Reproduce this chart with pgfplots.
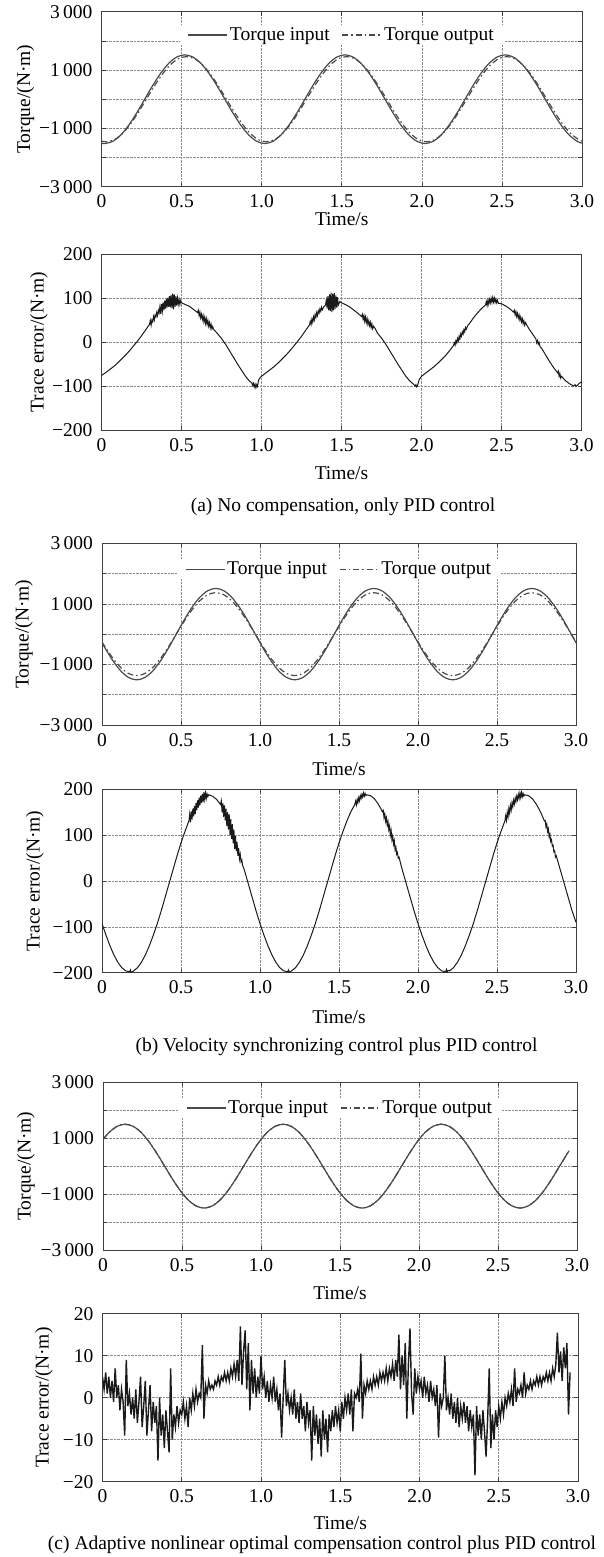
\documentclass[border=0pt]{standalone}
\usepackage{fontspec}
\setmainfont{Liberation Serif}
\usepackage{pgfplots}
\pgfplotsset{compat=1.18}
\newcommand\F{\fontsize{19.5}{22}\selectfont}
\definecolor{ax}{HTML}{404040}
\definecolor{gr}{HTML}{8C8C8C}
\definecolor{tq}{HTML}{4A4A4A}
\definecolor{er}{HTML}{1A1A1A}
\pgfplotsset{
  base/.style={
    scale only axis, anchor=south west,
    xmin=0, xmax=3,
    xtick={0,0.5,1,1.5,2,2.5,3},
    xticklabels={0,0.5,1.0,1.5,2.0,2.5,3.0},
    grid=major,
    grid style={gr, densely dotted, line width=0.6pt},
    axis line style={ax, line width=0.9pt},
    tick style={ax, line width=0.6pt},
    tick align=inside, major tick length=4pt,
    font=\F,
    ticklabel style={font=\F, inner sep=0pt},
    xticklabel shift=8pt, yticklabel shift=9pt,
    xlabel={Time/s},
    xlabel style={at={(axis description cs:0.5,0)}, anchor=center, font=\F},
    ylabel style={at={(axis description cs:0,0.5)}, anchor=center, font=\F},
  },
  tqax/.style={base, ymin=-3000, ymax=3000,
    ytick={-3000,-2000,-1000,0,1000,2000,3000},
    yticklabels={−3\,000,,−1\,000,,1\,000,,3\,000},
    ylabel={Torque/(N·m)},
    legend columns=2,
    legend style={draw=none, fill=white, inner xsep=8pt, inner ysep=1pt, font=\F,
      anchor=center, /tikz/every even column/.append style={column sep=10pt}},
    legend image code/.code={\draw[#1] (0pt,0pt) -- (39pt,0pt);},
  },
  erax/.style={base, ylabel={Trace error/(N·m)}},
  tin/.style={tq, line width=1.2pt, smooth},
  tout/.style={tq, line width=1.2pt, smooth, dash pattern=on 6pt off 3pt on 1.5pt off 3pt},
  err/.style={er, line width=1.0pt},
}
\begin{document}
\begin{tikzpicture}
\useasboundingbox (0pt,0pt) rectangle (604pt,1557pt);
% ---------------- (a) torque
\begin{axis}[tqax, at={(101.5pt,1370.3pt)}, width=480.5pt, height=175pt,
  ylabel style={yshift=76pt}, xlabel style={yshift=-32pt},
  legend style={at={(0.5,0.867)}}]
\addplot[tin] coordinates {(0,-1508)
(0.02,-1520)(0.07,-1446)(0.12,-1230)(0.17,-893)(0.22,-470)(0.27,0)(0.32,470)(0.37,893)(0.42,1230)(0.47,1446)
(0.52,1520)(0.57,1446)(0.62,1230)(0.67,893)(0.72,470)(0.77,0)(0.82,-470)(0.87,-893)(0.92,-1230)(0.97,-1446)
(1.02,-1520)(1.07,-1446)(1.12,-1230)(1.17,-893)(1.22,-470)(1.27,0)(1.32,470)(1.37,893)(1.42,1230)(1.47,1446)
(1.52,1520)(1.57,1446)(1.62,1230)(1.67,893)(1.72,470)(1.77,0)(1.82,-470)(1.87,-893)(1.92,-1230)(1.97,-1446)
(2.02,-1520)(2.07,-1446)(2.12,-1230)(2.17,-893)(2.22,-470)(2.27,0)(2.32,470)(2.37,893)(2.42,1230)(2.47,1446)
(2.52,1520)(2.57,1446)(2.62,1230)(2.67,893)(2.72,470)(2.77,0)(2.82,-470)(2.87,-893)(2.92,-1230)(2.97,-1446)
(3,-1508)};
\addlegendentry{Torque input}
\addplot[tout] coordinates {(0,-1434)
(0.03,-1460)(0.08,-1389)(0.13,-1181)(0.18,-858)(0.23,-451)(0.28,0)(0.33,451)(0.38,858)(0.43,1181)(0.48,1389)
(0.53,1460)(0.58,1389)(0.63,1181)(0.68,858)(0.73,451)(0.78,0)(0.83,-451)(0.88,-858)(0.93,-1181)(0.98,-1389)
(1.03,-1460)(1.08,-1389)(1.13,-1181)(1.18,-858)(1.23,-451)(1.28,0)(1.33,451)(1.38,858)(1.43,1181)(1.48,1389)
(1.53,1460)(1.58,1389)(1.63,1181)(1.68,858)(1.73,451)(1.78,0)(1.83,-451)(1.88,-858)(1.93,-1181)(1.98,-1389)
(2.03,-1460)(2.08,-1389)(2.13,-1181)(2.18,-858)(2.23,-451)(2.28,0)(2.33,451)(2.38,858)(2.43,1181)(2.48,1389)
(2.53,1460)(2.58,1389)(2.63,1181)(2.68,858)(2.73,451)(2.78,0)(2.83,-451)(2.88,-858)(2.93,-1181)(2.98,-1389)
(3,-1434)};
\addlegendentry{Torque output}
\end{axis}
% ---------------- (a) error
\begin{axis}[erax, at={(101.5pt,1127pt)}, width=480pt, height=176pt,
  ymin=-200, ymax=200, ytick={-200,-100,0,100,200}, yticklabels={−200,−100,0,100,200},
  ylabel style={yshift=62.5pt}, xlabel style={yshift=-43pt}]
\addplot[err] coordinates {
(0.000,-76)(0.025,-70)(0.050,-63)(0.075,-56)(0.100,-48)(0.125,-39)(0.150,-30)(0.175,-20)(0.200,-9)(0.225,2)(0.250,14)(0.275,27)(0.300,40)
(0.305,49)(0.310,38)(0.315,50)(0.320,46)(0.325,58)(0.330,50)(0.335,61)(0.340,57)(0.345,67)(0.350,60)(0.355,72)(0.360,66)
(0.365,80)(0.370,64)(0.375,86)(0.380,70)(0.385,90)(0.390,72)(0.395,94)(0.400,76)(0.405,98)(0.410,78)(0.415,101)(0.420,80)
(0.425,104)(0.430,79)(0.435,107)(0.440,77)(0.445,110)(0.450,74)(0.455,108)(0.460,80)(0.465,104)(0.470,83)(0.475,100)(0.480,86)
(0.485,97)(0.490,85)(0.495,94)(0.500,89)(0.525,85)(0.550,81)(0.575,74)(0.600,67)
(0.605,72)(0.610,60)(0.615,68)(0.620,55)(0.625,63)(0.630,51)(0.635,60)(0.640,46)(0.645,56)(0.650,42)(0.655,53)(0.660,40)
(0.665,49)(0.670,36)(0.675,44)(0.680,32)(0.685,40)(0.690,30)(0.695,35)(0.700,29)(0.725,19)(0.750,8)(0.775,-5)(0.800,-20)
(0.825,-35)(0.850,-50)(0.875,-64)(0.900,-78)(0.925,-89)(0.940,-93)(0.945,-99)(0.950,-94)(0.955,-102)(0.960,-96)(0.965,-104)
(0.970,-97)(0.975,-101)(0.980,-90)(0.985,-84)
(1.000,-78)(1.025,-71)(1.050,-64)(1.075,-57)(1.100,-49)(1.125,-40)(1.150,-31)(1.175,-21)(1.200,-10)(1.225,1)(1.250,13)(1.275,26)(1.300,39)
(1.305,47)(1.310,40)(1.315,52)(1.320,45)(1.325,57)(1.330,50)(1.335,62)(1.340,56)(1.345,67)(1.350,60)(1.355,71)(1.360,66)
(1.365,75)(1.370,70)(1.375,79)(1.380,73)(1.390,80)(1.400,84)
(1.405,95)(1.410,76)(1.415,104)(1.420,72)(1.425,108)(1.430,70)(1.435,112)(1.440,68)(1.445,110)(1.450,72)(1.455,111)(1.460,75)
(1.465,106)(1.470,78)(1.475,102)(1.480,84)(1.490,92)(1.500,89)(1.525,85)(1.550,80)(1.575,73)(1.600,66)(1.625,58)
(1.630,63)(1.635,52)(1.640,60)(1.645,47)(1.650,57)(1.655,44)(1.660,53)(1.665,40)(1.670,48)(1.675,37)(1.680,45)(1.685,33)
(1.690,41)(1.695,30)(1.700,36)(1.710,31)(1.725,20)(1.750,9)(1.775,-4)(1.800,-19)(1.825,-34)(1.850,-49)(1.875,-63)(1.900,-77)
(1.925,-88)(1.950,-96)(1.960,-100)(1.965,-97)(1.970,-102)(1.975,-99)(1.985,-86)
(2.000,-78)(2.025,-71)(2.050,-64)(2.075,-57)(2.100,-49)(2.125,-40)(2.150,-31)(2.175,-20)(2.200,-8)
(2.205,-2)(2.210,-7)(2.215,3)(2.220,-2)(2.225,8)(2.230,2)(2.235,13)(2.240,7)(2.245,18)(2.250,13)(2.255,23)(2.260,18)
(2.265,28)(2.270,23)(2.275,33)(2.280,29)(2.290,38)(2.300,42)(2.325,55)(2.350,66)(2.375,76)(2.400,84)
(2.405,92)(2.410,83)(2.415,95)(2.420,86)(2.425,97)(2.430,89)(2.435,99)(2.440,90)(2.445,101)(2.450,91)(2.455,100)(2.460,90)
(2.465,97)(2.470,89)(2.475,95)(2.480,88)(2.500,87)(2.525,82)(2.550,76)(2.575,68)
(2.580,72)(2.585,62)(2.590,69)(2.595,58)(2.600,65)(2.605,54)(2.610,61)(2.615,50)(2.620,57)(2.625,46)(2.630,53)(2.635,42)
(2.640,48)(2.645,38)(2.650,44)(2.660,37)(2.675,28)(2.700,15)(2.715,7)(2.720,-2)(2.725,3)(2.730,-5)(2.735,-1)(2.740,-10)
(2.750,-14)(2.775,-29)(2.800,-44)(2.825,-58)(2.850,-70)(2.855,-66)(2.860,-78)(2.865,-72)(2.870,-82)(2.875,-78)(2.900,-88)
(2.925,-95)(2.950,-100)(2.960,-97)(2.965,-101)(2.975,-98)(2.985,-94)(3.000,-91)};
\end{axis}
% ---------------- (b) torque
\begin{axis}[tqax, at={(102pt,832pt)}, width=474pt, height=181.7pt,
  ylabel style={yshift=78pt}, xlabel style={yshift=-44pt},
  legend style={at={(0.5,0.857)}}]
\addplot[tin] coordinates {(0,-283)
(0.02,-467)(0.07,-887)(0.12,-1222)(0.17,-1436)(0.22,-1510)(0.27,-1436)(0.32,-1222)(0.37,-887)(0.42,-467)(0.47,0)
(0.52,467)(0.57,887)(0.62,1222)(0.67,1436)(0.72,1510)(0.77,1436)(0.82,1222)(0.87,887)(0.92,467)(0.97,0)
(1.02,-467)(1.07,-887)(1.12,-1222)(1.17,-1436)(1.22,-1510)(1.27,-1436)(1.32,-1222)(1.37,-887)(1.42,-467)(1.47,0)
(1.52,467)(1.57,887)(1.62,1222)(1.67,1436)(1.72,1510)(1.77,1436)(1.82,1222)(1.87,887)(1.92,467)(1.97,0)
(2.02,-467)(2.07,-887)(2.12,-1222)(2.17,-1436)(2.22,-1510)(2.27,-1436)(2.32,-1222)(2.37,-887)(2.42,-467)(2.47,0)
(2.52,467)(2.57,887)(2.62,1222)(2.67,1436)(2.72,1510)(2.77,1436)(2.82,1222)(2.87,887)(2.92,467)(2.97,0)
(3,-283)};
\addlegendentry{Torque input}
\addplot[tout] coordinates {(0,-257)
(0.02,-423)(0.07,-805)(0.12,-1108)(0.17,-1303)(0.22,-1370)(0.27,-1303)(0.32,-1108)(0.37,-805)(0.42,-423)(0.47,0)
(0.52,423)(0.57,805)(0.62,1108)(0.67,1303)(0.72,1370)(0.77,1303)(0.82,1108)(0.87,805)(0.92,423)(0.97,0)
(1.02,-423)(1.07,-805)(1.12,-1108)(1.17,-1303)(1.22,-1370)(1.27,-1303)(1.32,-1108)(1.37,-805)(1.42,-423)(1.47,0)
(1.52,423)(1.57,805)(1.62,1108)(1.67,1303)(1.72,1370)(1.77,1303)(1.82,1108)(1.87,805)(1.92,423)(1.97,0)
(2.02,-423)(2.07,-805)(2.12,-1108)(2.17,-1303)(2.22,-1370)(2.27,-1303)(2.32,-1108)(2.37,-805)(2.42,-423)(2.47,0)
(2.52,423)(2.57,805)(2.62,1108)(2.67,1303)(2.72,1370)(2.77,1303)(2.82,1108)(2.87,805)(2.92,423)(2.97,0)
(3,-257)};
\addlegendentry{Torque output}
\end{axis}
% ---------------- (b) error
\begin{axis}[erax, at={(102pt,584.3pt)}, width=474pt, height=183.4pt,
  ymin=-200, ymax=200, ytick={-200,-100,0,100,200}, yticklabels={−200,−100,0,100,200},
  ylabel style={yshift=67pt}, xlabel style={yshift=-44pt}]
\addplot[err] coordinates {
(0.000,-93)(0.025,-118)(0.050,-141)(0.075,-161)(0.100,-177)(0.125,-189)(0.150,-196)(0.175,-198)(0.180,-194)(0.185,-200)
(0.200,-196)(0.225,-189)(0.250,-177)(0.275,-161)(0.300,-141)(0.325,-118)(0.350,-93)(0.375,-65)(0.400,-35)(0.425,-5)
(0.450,25)(0.475,55)(0.500,83)(0.525,108)(0.550,131)
(0.555,146)(0.560,128)(0.565,152)(0.570,134)(0.575,158)(0.580,141)(0.585,164)(0.590,146)(0.595,170)(0.600,154)
(0.605,176)(0.610,160)(0.615,182)(0.620,165)(0.625,186)(0.630,170)(0.635,190)(0.640,172)(0.645,194)(0.650,178)
(0.655,192)(0.660,180)(0.665,190)(0.670,184)(0.675,188)(0.700,185)(0.725,178)(0.750,167)
(0.755,175)(0.760,150)(0.765,170)(0.770,140)(0.775,165)(0.780,132)(0.785,158)(0.790,120)(0.795,150)(0.800,112)
(0.805,146)(0.810,100)(0.815,135)(0.820,92)(0.825,124)(0.830,82)(0.835,112)(0.840,70)(0.845,98)(0.850,65)
(0.855,85)(0.860,55)(0.865,72)(0.870,48)(0.875,58)(0.880,42)(0.885,46)(0.890,34)(0.900,25)(0.925,-5)(0.950,-35)(0.975,-65)
(1.000,-93)(1.025,-118)(1.050,-141)(1.075,-161)(1.100,-177)(1.125,-189)(1.150,-196)(1.175,-198)(1.180,-194)(1.185,-199)
(1.200,-196)(1.225,-189)(1.250,-177)(1.275,-161)(1.300,-141)(1.325,-118)(1.350,-93)(1.375,-65)(1.400,-35)(1.425,-5)
(1.450,25)(1.475,55)(1.500,83)(1.525,108)(1.550,131)(1.575,151)(1.600,167)
(1.605,174)(1.610,166)(1.615,178)(1.620,171)(1.625,182)(1.630,175)(1.635,186)(1.640,180)(1.645,189)(1.650,183)
(1.655,192)(1.660,185)(1.665,191)(1.670,186)(1.675,188)(1.700,186)(1.725,179)(1.750,167)(1.775,151)
(1.780,154)(1.785,138)(1.790,146)(1.795,130)(1.800,138)(1.805,122)(1.810,130)(1.815,112)(1.820,120)(1.825,100)
(1.830,110)(1.835,90)(1.840,98)(1.845,80)(1.850,88)(1.855,68)(1.860,74)(1.865,58)(1.870,62)(1.875,50)(1.880,52)
(1.890,38)(1.900,25)(1.925,-5)(1.950,-35)(1.975,-65)
(2.000,-93)(2.025,-118)(2.050,-141)(2.075,-161)(2.100,-177)(2.125,-189)(2.150,-196)(2.175,-198)(2.180,-193)(2.185,-199)
(2.190,-195)(2.200,-196)(2.225,-189)(2.250,-177)(2.275,-161)(2.300,-141)(2.325,-118)(2.350,-93)(2.375,-65)(2.400,-35)
(2.425,-5)(2.450,25)(2.475,55)(2.500,83)(2.525,108)(2.550,131)
(2.555,142)(2.560,132)(2.565,150)(2.570,140)(2.575,158)(2.580,148)(2.585,165)(2.590,155)(2.595,171)(2.600,162)
(2.605,176)(2.610,168)(2.615,181)(2.620,173)(2.625,185)(2.630,177)(2.635,189)(2.640,180)(2.645,192)(2.650,182)
(2.655,193)(2.660,184)(2.665,191)(2.670,185)(2.675,188)(2.700,186)(2.725,179)(2.750,167)(2.775,151)(2.800,131)
(2.805,132)(2.810,118)(2.815,124)(2.820,108)(2.825,114)(2.830,96)(2.835,102)(2.840,86)(2.845,90)(2.850,76)
(2.855,78)(2.860,64)(2.865,66)(2.870,52)(2.875,55)(2.900,25)(2.925,-5)(2.950,-35)(2.975,-65)(3.000,-90)};
\end{axis}
% ---------------- (c) torque
\begin{axis}[tqax, at={(103pt,307pt)}, width=474pt, height=167.7pt,
  ylabel style={yshift=77pt}, xlabel style={yshift=-43pt},
  legend style={at={(0.5,0.847)}}]
\addplot[tin] coordinates {(0,956)
(0.04,1214)(0.09,1427)(0.14,1500)(0.19,1427)(0.24,1214)(0.29,882)(0.34,464)(0.39,0)(0.44,-464)(0.49,-882)
(0.54,-1214)(0.59,-1427)(0.64,-1500)(0.69,-1427)(0.74,-1214)(0.79,-882)(0.84,-464)(0.89,0)(0.94,464)(0.99,882)
(1.04,1214)(1.09,1427)(1.14,1500)(1.19,1427)(1.24,1214)(1.29,882)(1.34,464)(1.39,0)(1.44,-464)(1.49,-882)
(1.54,-1214)(1.59,-1427)(1.64,-1500)(1.69,-1427)(1.74,-1214)(1.79,-882)(1.84,-464)(1.89,0)(1.94,464)(1.99,882)
(2.04,1214)(2.09,1427)(2.14,1500)(2.19,1427)(2.24,1214)(2.29,882)(2.34,464)(2.39,0)(2.44,-464)(2.49,-882)
(2.54,-1214)(2.59,-1427)(2.64,-1500)(2.69,-1427)(2.74,-1214)(2.79,-882)(2.84,-464)(2.89,0)(2.94,464)(2.95,552)};
\addlegendentry{Torque input}
\addplot[tout] coordinates {(0,956)
(0.04,1214)(0.09,1427)(0.14,1500)(0.19,1427)(0.24,1214)(0.29,882)(0.34,464)(0.39,0)(0.44,-464)(0.49,-882)
(0.54,-1214)(0.59,-1427)(0.64,-1500)(0.69,-1427)(0.74,-1214)(0.79,-882)(0.84,-464)(0.89,0)(0.94,464)(0.99,882)
(1.04,1214)(1.09,1427)(1.14,1500)(1.19,1427)(1.24,1214)(1.29,882)(1.34,464)(1.39,0)(1.44,-464)(1.49,-882)
(1.54,-1214)(1.59,-1427)(1.64,-1500)(1.69,-1427)(1.74,-1214)(1.79,-882)(1.84,-464)(1.89,0)(1.94,464)(1.99,882)
(2.04,1214)(2.09,1427)(2.14,1500)(2.19,1427)(2.24,1214)(2.29,882)(2.34,464)(2.39,0)(2.44,-464)(2.49,-882)
(2.54,-1214)(2.59,-1427)(2.64,-1500)(2.69,-1427)(2.74,-1214)(2.79,-882)(2.84,-464)(2.89,0)(2.94,464)(2.95,552)};
\addlegendentry{Torque output}
\end{axis}
% ---------------- (c) error
\begin{axis}[erax, at={(102.5pt,75.3pt)}, width=475.5pt, height=168pt,
  ymin=-20, ymax=20, ytick={-20,-10,0,10,20}, yticklabels={−20,−10,0,10,20},
  ylabel style={yshift=58.5pt}, xlabel style={yshift=-41.6pt}]
\addplot[err, line width=1.4pt] coordinates {
(0.00,5)(0.01,2)(0.02,6)(0.03,1)(0.04,5)(0.05,0)(0.06,4)(0.07,-1)(0.08,7)(0.09,0)
(0.10,3)(0.11,-3)(0.12,2)(0.13,-1)(0.14,-9)(0.15,9)(0.16,-2)(0.17,1)(0.18,-4)(0.19,0)
(0.20,-5)(0.21,2)(0.22,-6)(0.23,-1)(0.24,5)(0.25,-7)(0.26,-2)(0.27,4)(0.28,-9)(0.29,-3)
(0.30,3)(0.31,-8)(0.32,-1)(0.33,-6)(0.34,-2)(0.35,-15)(0.36,0)(0.37,-9)(0.38,-4)(0.39,-12)
(0.40,-3)(0.41,-8)(0.42,-13)(0.43,7)(0.44,-10)(0.45,-4)(0.46,-7)(0.47,-2)(0.48,-6)(0.49,-3)
(0.50,-4)(0.51,-1)(0.52,-5)(0.53,-2)(0.54,-7)(0.55,0)(0.56,-3)(0.57,1)(0.58,-2)(0.59,2)
(0.60,-1)(0.61,1)(0.62,0)(0.63,12.5)(0.64,-5)(0.65,3)(0.66,1)(0.67,4)(0.68,2)(0.69,3)
(0.70,2)(0.71,4)(0.72,3)(0.73,5)(0.74,3)(0.75,5)(0.76,4)(0.77,6)(0.78,4)(0.79,6)
(0.80,4)(0.81,7)(0.82,5)(0.83,8)(0.84,5)(0.85,9)(0.86,4)(0.87,17)(0.88,3)(0.89,11)
(0.90,16)(0.91,2)(0.92,13)(0.93,-3)(0.94,9)(0.95,1)(0.96,7)(0.97,0)(0.98,5)(0.99,1)
(1.00,10)(1.01,2)(1.02,5)(1.03,0)(1.04,4)(1.05,-1)(1.06,3)(1.07,0)(1.08,5)(1.09,-1)
(1.10,2)(1.11,-3)(1.12,1)(1.13,-9.5)(1.14,0)(1.15,9)(1.16,-2)(1.17,1)(1.18,-3)(1.19,0)
(1.20,-4)(1.21,2)(1.22,-5)(1.23,-1)(1.24,-6)(1.25,1)(1.26,-5)(1.27,-2)(1.28,-8)(1.29,-1)
(1.30,-6)(1.31,-3)(1.32,-15)(1.33,-2)(1.34,-9)(1.35,-4)(1.36,-11)(1.37,-5)(1.38,-14)(1.39,-3)
(1.40,-10)(1.41,-5)(1.42,-13)(1.43,-4)(1.44,-8)(1.45,-3)(1.46,-7)(1.47,-2)(1.48,-6)(1.49,-3)
(1.50,-8)(1.51,-1)(1.52,-5)(1.53,0)(1.54,-3)(1.55,1)(1.56,-4)(1.57,2)(1.58,-8)(1.59,1)
(1.60,0)(1.61,2)(1.62,-1)(1.63,10.5)(1.64,-5)(1.65,3)(1.66,1)(1.67,4)(1.68,2)(1.69,4)
(1.70,2)(1.71,5)(1.72,3)(1.73,5)(1.74,3)(1.75,6)(1.76,4)(1.77,6)(1.78,4)(1.79,7)
(1.80,4)(1.81,7)(1.82,5)(1.83,8)(1.84,4)(1.85,9)(1.86,5)(1.87,15)(1.88,2)(1.89,10)
(1.90,3)(1.91,13)(1.92,-5)(1.93,8)(1.94,16.5)(1.95,1)(1.96,-4)(1.97,7)(1.98,1)(1.99,5)
(2.00,2)(2.01,4)(2.02,0)(2.03,5)(2.04,1)(2.05,3)(2.06,-1)(2.07,4)(2.08,0)(2.09,2)
(2.10,-2)(2.11,3)(2.12,-9.5)(2.13,1)(2.14,-2)(2.15,0)(2.16,10)(2.17,-3)(2.18,0)(2.19,-4)
(2.20,1)(2.21,-5)(2.22,-1)(2.23,-6)(2.24,0)(2.25,-7)(2.26,-2)(2.27,-5)(2.28,-1)(2.29,-6)
(2.30,-2)(2.31,-8)(2.32,-3)(2.33,-7)(2.34,-4)(2.35,-18.5)(2.36,-2)(2.37,-9)(2.38,-4)(2.39,-10)
(2.40,-3)(2.41,-8)(2.42,-14)(2.43,-5)(2.44,7)(2.45,-12)(2.46,-4)(2.47,-10)(2.48,-3)(2.49,-7)
(2.50,-2)(2.51,-5)(2.52,-1)(2.53,-4)(2.54,0)(2.55,-2)(2.56,1)(2.57,-1)(2.58,2)(2.59,-2)
(2.60,7)(2.61,-1)(2.62,2)(2.63,1)(2.64,3)(2.65,0)(2.66,6)(2.67,1)(2.68,3)(2.69,2)
(2.70,4)(2.71,2)(2.72,4)(2.73,3)(2.74,5)(2.75,3)(2.76,5)(2.77,3)(2.78,5)(2.79,4)
(2.80,6)(2.81,4)(2.82,6)(2.83,4)(2.84,7)(2.85,5)(2.86,8)(2.87,15.5)(2.88,6)(2.89,11)
(2.90,4)(2.91,12)(2.92,7)(2.93,13)(2.94,-4)(2.95,6)};
\end{axis}
% ---------------- captions
\node[font=\F] at (343pt,1050.3pt) {(a) No compensation, only PID control};
\node[font=\F] at (336.5pt,510.3pt) {(b) Velocity synchronizing control plus PID control};
\node[font=\F] at (322pt,12pt) {(c) Adaptive nonlinear optimal compensation control plus PID control};
\end{tikzpicture}
\end{document}
